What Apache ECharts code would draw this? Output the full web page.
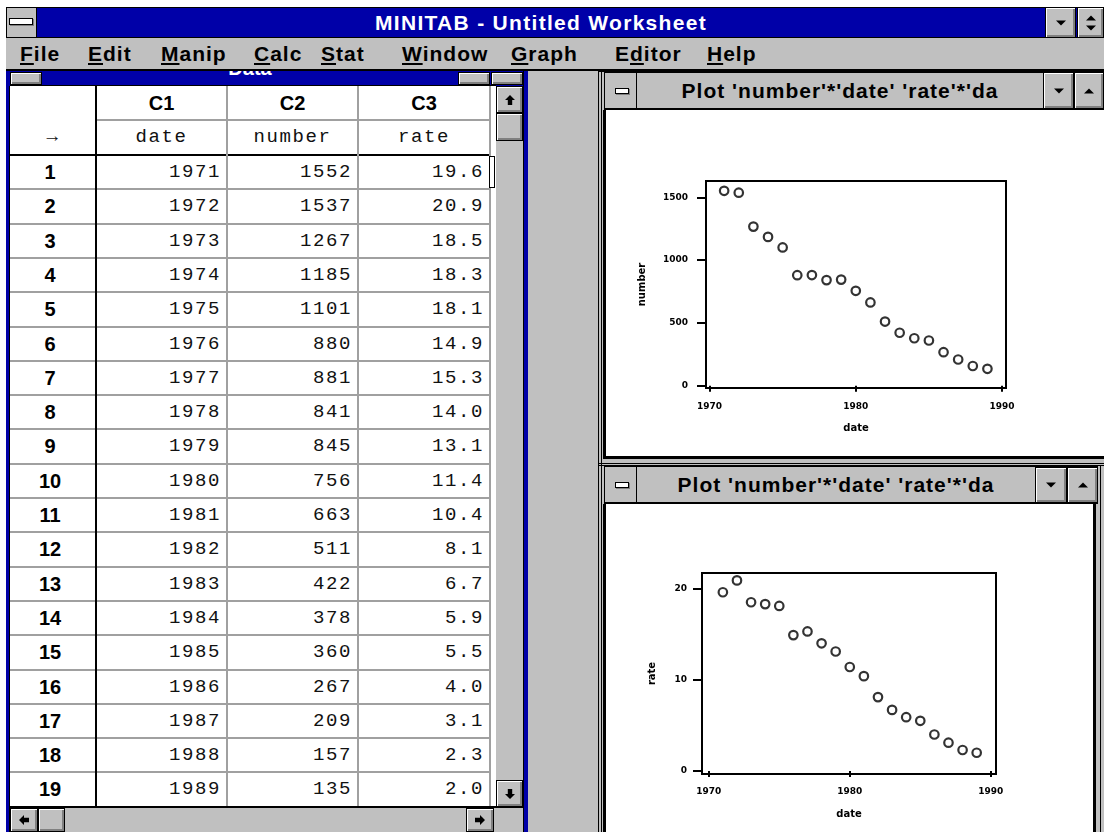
<!DOCTYPE html>
<html><head><meta charset="utf-8">
<script src="https://cdn.jsdelivr.net/npm/echarts@6/dist/echarts.min.js"></script>
<style>
html,body{margin:0;padding:0;}
body{width:1104px;height:832px;overflow:hidden;background:#fff;position:relative;font-family:"Liberation Sans",Arial,sans-serif;}
#ui{position:absolute;left:0;top:0;width:1104px;height:832px;}
.a{position:absolute;box-sizing:border-box;}
#chart{position:absolute;left:0;top:0;width:1104px;height:832px;z-index:10;pointer-events:none;}
u{text-decoration-thickness:2px;text-underline-offset:2px;}
</style>
</head><body>
<div id="ui"></div>
<div id="chart"></div>
<script>
// ---- data ----
const dates   = [1971,1972,1973,1974,1975,1976,1977,1978,1979,1980,1981,1982,1983,1984,1985,1986,1987,1988,1989];
const numbers = [1552,1537,1267,1185,1101,880,881,841,845,756,663,511,422,378,360,267,209,157,135];
const rates   = [19.6,20.9,18.5,18.3,18.1,14.9,15.3,14.0,13.1,11.4,10.4,8.1,6.7,5.9,5.5,4.0,3.1,2.3,2.0];
const dateTicks   = [1970,1980,1990];
const numberTicks = [0,500,1000,1500];
const rateTicks   = [0,10,20];
const colHeads = ['C1','C2','C3'];
const colNames = ['date','number','rate'];
const menuItems = [['File','F'],['Edit','E'],['Manip','M'],['Calc','C'],['Stat','S'],['Window','W'],['Graph','G'],['Editor','d'],['Help','H']];
const menuX = [20,88,161,254,321,402,511,615,707];
const plotTitle = "Plot 'number'*'date' 'rate'*'da";
const appTitle = "MINITAB - Untitled Worksheet";

// ---- window chrome ----
const ui = document.getElementById('ui');
function el(x,y,w,h,css,html){const d=document.createElement('div');d.className='a';
  d.style.cssText=`left:${x}px;top:${y}px;width:${w}px;height:${h}px;`+(css||'');
  if(html!==undefined)d.innerHTML=html;ui.appendChild(d);return d;}
const SVG=(pts,rot,s)=>`<svg width="${s||12}" height="${s||12}" viewBox="0 0 12 12" style="transform:rotate(${rot||0}deg)"><polygon points="${pts}" fill="#000"/></svg>`;
const ARROW="6,1 11,6 8.2,6 8.2,11 3.8,11 3.8,6 1,6";
const TRI="1,3.5 11,3.5 6,8.5";
const TRIUP="1,8.5 11,8.5 6,3.5";
function btn(x,y,w,h,icon){return el(x,y,w,h,'background:#c0c0c0;border:1px solid #000;box-shadow:inset 1px 1px 0 #fff,inset -2px -2px 0 #808080;display:flex;flex-direction:column;align-items:center;justify-content:center;',icon||'');}
const GRAY='#c0c0c0', BLUE='#0000a8';

// title bar
el(6,7,1098,31,`background:${BLUE};border-top:1px solid #000;border-bottom:1px solid #000;`);
el(6,7,31,31,`background:${GRAY};border:1px solid #000;`);
el(9,18,24,7,'background:#fff;border:1px solid #000;box-shadow:1px 1px 0 #808080;');
el(37,7,1008,31,'color:#fff;font-weight:bold;font-size:21px;letter-spacing:1.3px;line-height:31px;text-align:center;white-space:nowrap;',appTitle);
btn(1045,7,31,31,SVG(TRI,0,12));
btn(1077,7,27,31,SVG(TRIUP,0,12).replace('height="12"','height="9"').replace('viewBox="0 0 12 12"','viewBox="0 2 12 9"')+SVG(TRI,0,12).replace('height="12"','height="9"').replace('viewBox="0 0 12 12"','viewBox="0 1 12 9"'));

// menu bar
el(6,38,1098,33,`background:${GRAY};border-bottom:2px solid #000;`);
menuItems.forEach((m,i)=>{
  const [t,k]=m; const j=t.indexOf(k);
  const h=t.slice(0,j)+'<u>'+t[j]+'</u>'+t.slice(j+1);
  el(menuX[i],38,120,31,'font-weight:bold;font-size:21px;letter-spacing:1px;line-height:31px;white-space:nowrap;color:#000;',h);
});

// Data window frame
el(6,71,522,15,`background:${BLUE};`);
el(6,86,4,746,`background:${BLUE};border-right:1px solid #000;`);
el(523,71,5,761,`background:${BLUE};border-left:1px solid #000;`);
el(10,72,32,13,`background:${GRAY};border:1px solid #000;box-shadow:inset 1px 1px 0 #fff,inset -2px -2px 0 #808080;`);
el(458,72,32,13,`background:${GRAY};border:1px solid #000;box-shadow:inset 1px 1px 0 #fff,inset -2px -2px 0 #808080;`);
el(491,72,32,13,`background:${GRAY};border:1px solid #000;box-shadow:inset 1px 1px 0 #fff,inset -2px -2px 0 #808080;`);
const dt=el(42,71,416,7,'overflow:hidden;');
dt.innerHTML='<div style="position:absolute;left:0;width:416px;top:-14px;line-height:22px;font-size:20px;font-weight:bold;color:#fff;text-align:center;">Data</div>';

// table
const colX=[10,96,227,358,490];
const RH=34.3, R0=155;
el(10,85,486,722,'background:#fff;border-top:1px solid #000;');
el(96,119,394,2,'background:#a0a0a0;');
el(10,154,480,2,'background:#000;');
for(let i=1;i<=19;i++) el(10,R0+i*RH-1,480,2,'background:#a0a0a0;');
el(95,86,2,721,'background:#000;');
el(226,86,2,721,'background:#a0a0a0;');
el(357,86,2,721,'background:#a0a0a0;');
el(489,86,2,721,'background:#a0a0a0;');
const mono='font-family:"Liberation Mono","DejaVu Sans Mono",monospace;font-size:19px;letter-spacing:1.6px;color:#111;white-space:nowrap;';
colHeads.forEach((c,i)=>{
  el(colX[i+1],86,colX[i+2]-colX[i+1],34,'font-weight:bold;font-size:20px;line-height:34px;text-align:center;',c);
  el(colX[i+1],120,colX[i+2]-colX[i+1],35,mono+'line-height:35px;text-align:center;',colNames[i]);
});
el(10,120,86,35,mono+'line-height:35px;text-align:center;','\u2192');
dates.forEach((d,i)=>{
  const y=R0+i*RH;
  el(10,y,86,RH,'font-weight:bold;font-size:20px;line-height:35px;text-align:center;padding-right:6px;',String(i+1));
  const vals=[String(d),String(numbers[i]),rates[i].toFixed(1)];
  vals.forEach((v,k)=>{
    el(colX[k+1],y,colX[k+2]-colX[k+1],RH,mono+'line-height:35px;text-align:right;padding-right:6px;',v);
  });
});
el(489,156,6,32,'background:#fff;border:1.5px solid #000;');

// vertical scrollbar
el(496,86,27,721,`background:${GRAY};`);
btn(496,86,27,27,SVG(ARROW,0,12));
btn(496,113,27,28,'');
btn(496,780,27,27,SVG(ARROW,180,12));
// horizontal scrollbar
el(10,806,513,26,`background:${GRAY};border-top:2px solid #000;`);
btn(10,808,28,24,SVG(ARROW,-90,12));
btn(38,808,27,24,'');
btn(466,808,28,24,SVG(ARROW,90,12));

// MDI background
el(528,71,70,761,`background:${GRAY};`);

// top plot window
el(598,71,506,395,`background:${GRAY};border-left:1px solid #000;border-top:1px solid #000;`);
el(601,71,1,395,'background:#000;');
el(604,72,500,38,`background:${GRAY};border-left:1px solid #000;border-top:1px solid #000;border-bottom:2px solid #000;`);
el(604,72,33,38,'border-right:1px solid #000;border-left:1px solid #000;');
el(615,88,14,6,'background:#fff;border:1px solid #000;box-shadow:1px 1px 0 #808080;');
el(637,72,406,38,'font-weight:bold;font-size:21px;letter-spacing:1px;line-height:37px;text-align:center;white-space:nowrap;color:#000;',plotTitle);
btn(1043,72,31,37,SVG(TRI,0,12));
btn(1074,72,30,37,SVG(TRIUP,0,12));
el(603,110,501,349,'background:#fff;border-left:3px solid #000;border-bottom:3px solid #000;');
el(598,463,506,1,'background:#000;');

// bottom plot window
el(598,465,506,367,`background:${GRAY};border-left:1px solid #000;border-top:1px solid #000;`);
el(601,465,1,367,'background:#000;');
el(604,466,494,38,`background:${GRAY};border-left:1px solid #000;border-top:1px solid #000;border-bottom:2px solid #000;border-right:1px solid #000;`);
el(604,466,33,38,'border-right:1px solid #000;border-left:1px solid #000;');
el(615,482,14,6,'background:#fff;border:1px solid #000;box-shadow:1px 1px 0 #808080;');
el(637,466,398,38,'font-weight:bold;font-size:21px;letter-spacing:1px;line-height:37px;text-align:center;white-space:nowrap;color:#000;',plotTitle);
btn(1035,467,32,36,SVG(TRI,0,12));
btn(1067,467,31,36,SVG(TRIUP,0,12));
el(603,504,493,328,'background:#fff;border-left:3px solid #000;border-right:3px solid #000;');
el(1100,465,1,367,'background:#000;');

// ---- charts ----
const chart = echarts.init(document.getElementById('chart'), null, {renderer:'canvas'});
const tickFont = {fontFamily:'DejaVu Sans', fontWeight:'bold', fontSize:9, color:'#000', formatter:v=>String(v)};
const nameFont = {fontFamily:'DejaVu Sans', fontWeight:'bold', fontSize:10, color:'#000'};
function xAx(gi,min,max,margin){
  return {type:'value',gridIndex:gi,min:min,max:max,
    axisLine:{show:false},splitLine:{show:false},
    axisTick:{show:true,inside:false,length:6,lineStyle:{color:'#000',width:2},customValues:dateTicks},
    axisLabel:Object.assign({margin:margin,customValues:dateTicks},tickFont),
    name:'date',nameLocation:'middle',nameGap:35,nameTextStyle:nameFont};
}
function yAx(gi,min,max,ticks,name,margin,gap){
  return {type:'value',gridIndex:gi,min:min,max:max,
    axisLine:{show:false},splitLine:{show:false},
    axisTick:{show:true,inside:false,length:9,lineStyle:{color:'#000',width:2},customValues:ticks},
    axisLabel:Object.assign({margin:margin,customValues:ticks},tickFont),
    name:name,nameLocation:'middle',nameGap:gap,nameRotate:90,nameTextStyle:nameFont};
}
const sym = {symbol:'circle',symbolSize:8.5,itemStyle:{color:'#fff',borderColor:'#000',borderWidth:2.2}};
chart.setOption({
  animation:false,
  backgroundColor:'transparent',
  grid:[
    {left:706,top:181,width:300,height:207,show:true,borderColor:'#000',borderWidth:2,backgroundColor:'transparent'},
    {left:702,top:573,width:294,height:201,show:true,borderColor:'#000',borderWidth:2,backgroundColor:'transparent'}
  ],
  xAxis:[xAx(0,1969.76,1990.27,14), xAx(1,1969.52,1990.37,13)],
  yAxis:[yAx(0,-18,1630,numberTicks,'number',18,59), yAx(1,-0.33,21.71,rateTicks,'rate',15,45)],
  series:[
    Object.assign({type:'scatter',xAxisIndex:0,yAxisIndex:0,data:dates.map((d,i)=>[d,numbers[i]])},sym),
    Object.assign({type:'scatter',xAxisIndex:1,yAxisIndex:1,data:dates.map((d,i)=>[d,rates[i]])},sym)
  ]
});
</script>
</body></html>
